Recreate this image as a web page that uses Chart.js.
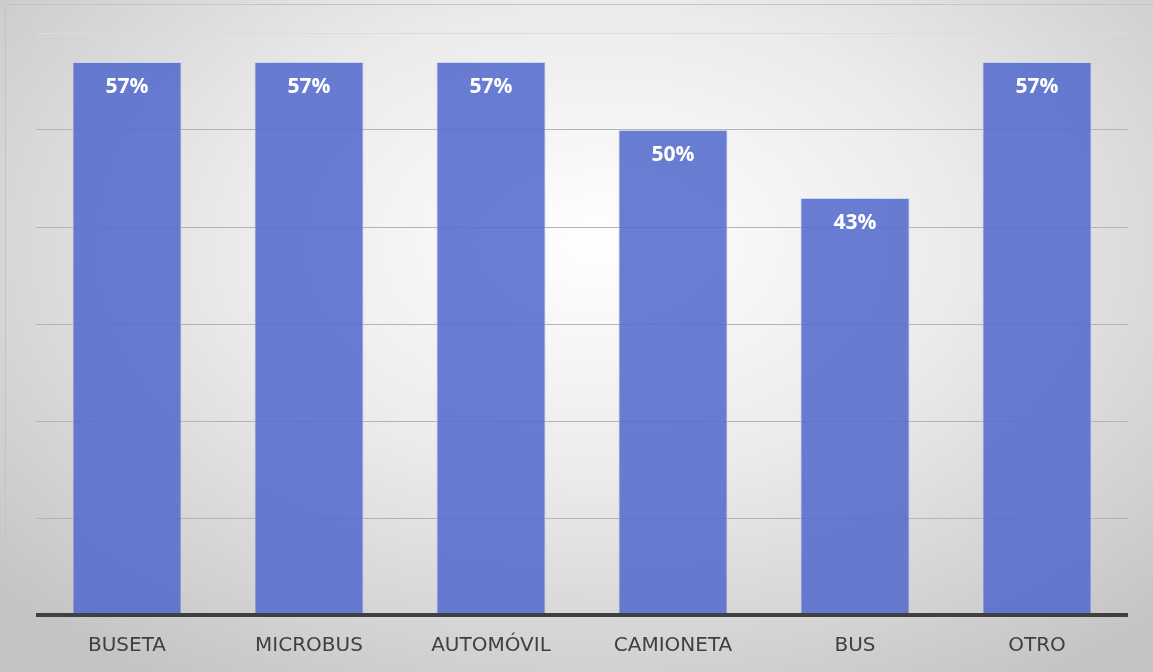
<!DOCTYPE html>
<html>
<head>
<meta charset="utf-8">
<script src="https://cdn.jsdelivr.net/npm/chart.js@4"></script>
<style>
  html, body { margin: 0; padding: 0; }
  body {
    width: 1153px; height: 672px; overflow: hidden;
    background: radial-gradient(ellipse 70% 78% at 52% 36%, #ffffff 0%, #ebebeb 45%, #c4c4c4 100%);
  }
  #frame {
    position: absolute; left: 5px; top: 4px; width: 1148px; height: 668px;
    border-top: 1px solid #c4c4c4; border-left: 1px solid #c4c4c4;
  }
  #chart { position: absolute; left: 0; top: 0; }
</style>
</head>
<body>
<div id="frame"></div>
<canvas id="chart" width="1153" height="672"></canvas>
<script>
const categories = ["BUSETA", "MICROBUS", "AUTOMÓVIL", "CAMIONETA", "BUS", "OTRO"];
const shares = [57, 57, 57, 50, 43, 57];
const yTicks = [0, 10, 20, 30, 40, 50, 60];

const barLabels = {
  id: "barLabels",
  afterDatasetsDraw(chart) {
    const ctx = chart.ctx;
    const meta = chart.getDatasetMeta(0);
    ctx.save();
    ctx.fillStyle = "#ffffff";
    ctx.font = "bold 21px 'Open Sans', sans-serif";
    ctx.textAlign = "center";
    ctx.textBaseline = "middle";
    meta.data.forEach((bar, i) => {
      ctx.fillText(shares[i] + "%", bar.x, bar.y + 25);
    });
    ctx.restore();
  }
};

new Chart(document.getElementById("chart"), {
  type: "bar",
  data: {
    labels: categories,
    datasets: [{
      data: shares,
      backgroundColor: "rgba(84, 108, 204, 0.88)",
      borderColor: "rgba(200, 210, 240, 0.9)",
      borderWidth: 1,
      categoryPercentage: 0.6,
      barPercentage: 1.0
    }]
  },
  options: {
    responsive: false,
    animation: false,
    layout: { padding: { left: 36, right: 25, top: 33, bottom: 0 } },
    plugins: { legend: { display: false }, tooltip: { enabled: false } },
    scales: {
      x: {
        grid: { display: false, drawTicks: false },
        border: { display: false },
        ticks: { color: "#404040", font: { family: "'DejaVu Sans', sans-serif", size: 20 }, padding: 19 },
        afterFit: axis => { axis.height = 57; }
      },
      y: {
        min: 0, max: 60,
        afterBuildTicks: axis => { axis.ticks = yTicks.map(v => ({ value: v })); },
        ticks: { display: false },
        border: { display: false },
        grid: {
          color: c => c.tick.value === 0 ? "#404040" : (c.tick.value === 60 ? "#dcdcdc" : "#b4b4b4"),
          lineWidth: c => c.tick.value === 0 ? 4 : 1,
          drawTicks: false
        }
      }
    }
  },
  plugins: [barLabels]
});
</script>
</body>
</html>
